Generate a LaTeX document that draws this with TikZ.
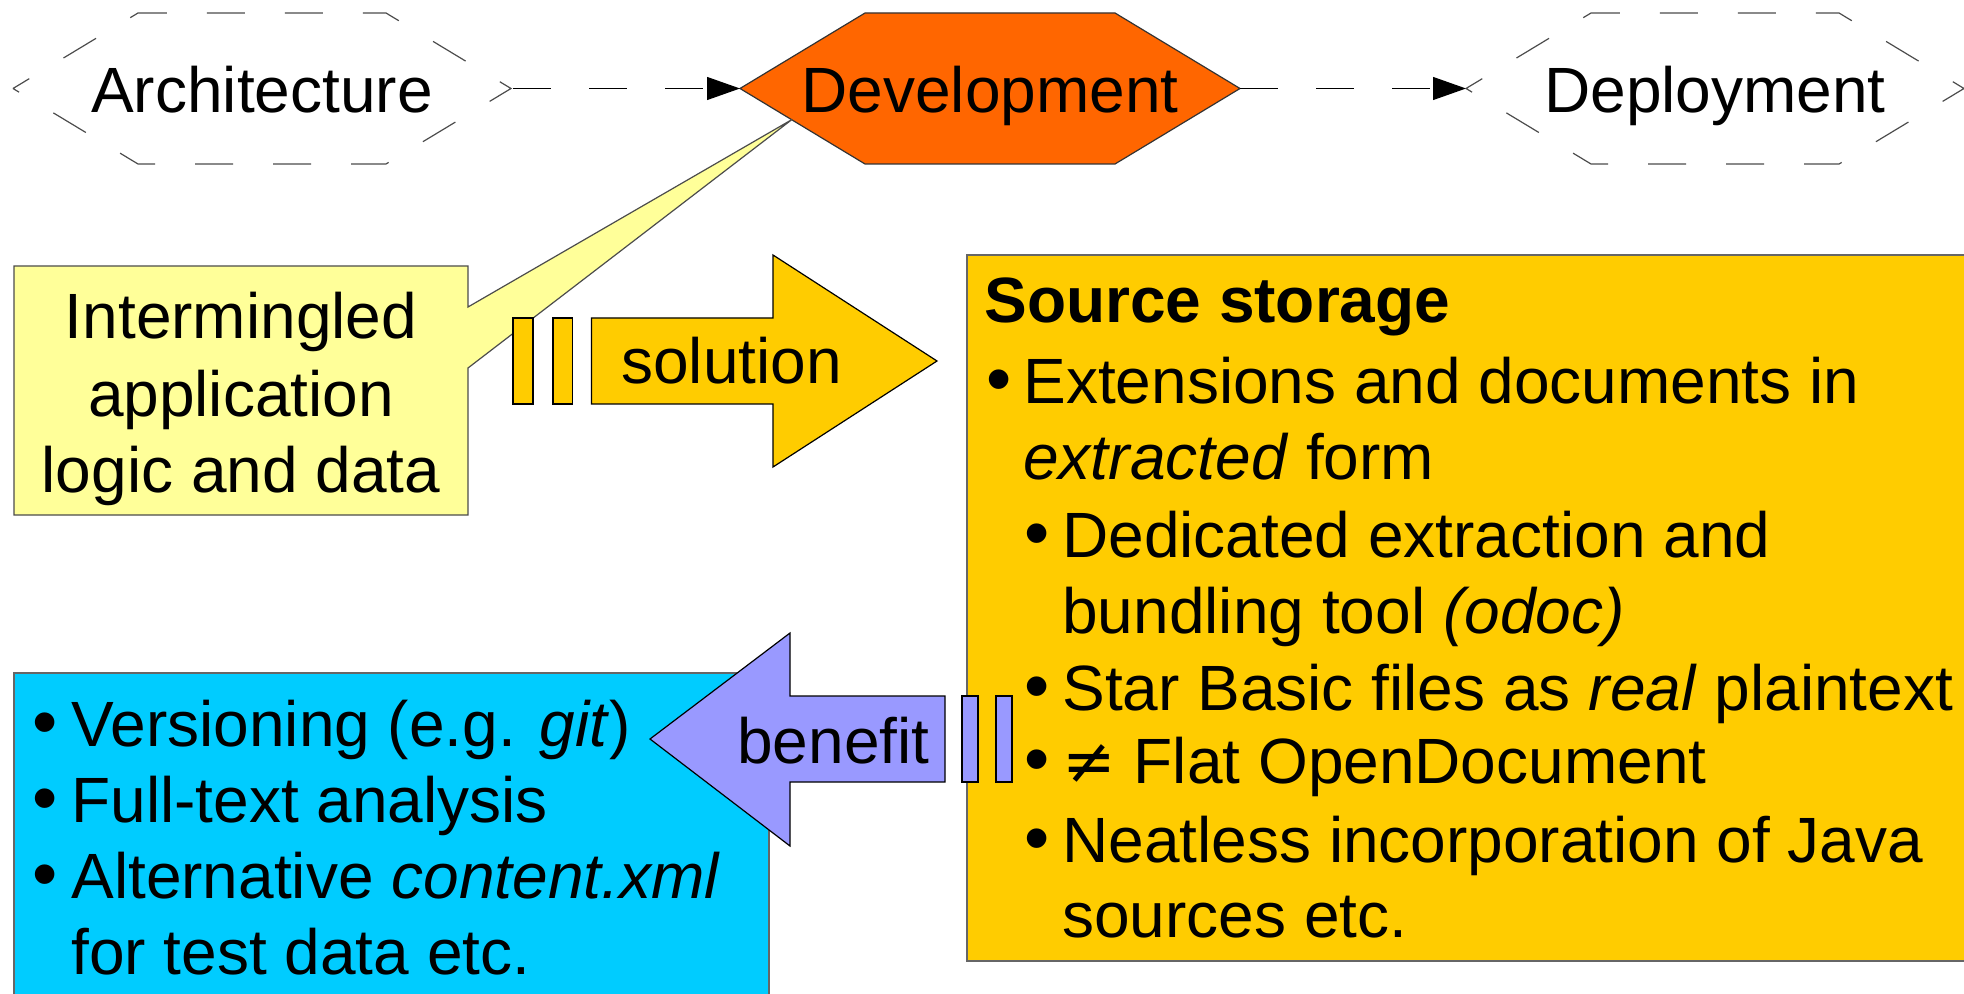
\documentclass[tikz,border=0pt]{standalone}
\usepackage{fontspec}
\setmainfont{Liberation Sans}
\newfontfamily\symfont{DejaVu Sans}
\usetikzlibrary{arrows.meta}
\definecolor{devorange}{HTML}{FF6600}
\definecolor{callyellow}{HTML}{FFFF99}
\definecolor{goldfill}{HTML}{FFCC00}
\definecolor{skyfill}{HTML}{00CCFF}
\definecolor{lavfill}{HTML}{9999FF}
\begin{document}
\begin{tikzpicture}[x=0.5pt,y=-0.5pt,
  txt/.style={font=\fontsize{32}{38}\selectfont, inner sep=0pt, anchor=base west},
  ctxt/.style={font=\fontsize{32}{38}\selectfont, inner sep=0pt, anchor=base},
  bul/.style={font=\fontsize{36}{38}\selectfont, inner sep=0pt, anchor=base west},
  dhex/.style={draw=black!70, line width=0.6pt, dash pattern=on 19pt off 20pt, dash phase=9.5pt},
  conn/.style={draw=black, line width=0.6pt, dash pattern=on 19pt off 19pt, -{Triangle[length=16.5pt,width=11.5pt]}},
  shapeline/.style={line width=0.6pt}]
\path[use as bounding box] (0,0) rectangle (1964,994);
\clip (0,0) rectangle (1964,994);

% hexagons
\draw[dhex] (13,88.5) -- (138,13) -- (386,13) -- (511,88.5) -- (386,164) -- (138,164) -- cycle;
\draw[shapeline, fill=devorange, draw=black!80] (740,88.5) -- (865,13) -- (1115,13) -- (1240,88.5) -- (1115,164) -- (865,164) -- cycle;
\draw[dhex] (1466,88.5) -- (1591,13) -- (1839,13) -- (1964,88.5) -- (1839,164) -- (1591,164) -- cycle;
\coordinate (archE) at (513,88.5);
\coordinate (devW) at (740,88.5);
\coordinate (devE) at (1240,88.5);
\coordinate (depW) at (1466,88.5);
\coordinate (devTip) at (792,119.5);
\node[ctxt] (archT) at (262,113) {Architecture};
\node[ctxt] (devT) at (990,113) {Development};
\node[ctxt] (depT) at (1715,113) {Deployment};
\draw[conn] (archE) -- (devW);
\draw[conn] (devE) -- (depW);

% callout
\draw[shapeline, fill=callyellow, draw=black!70] (14,266) -- (468,266) -- (468,307) -- (devTip) -- (468,368) -- (468,515) -- (14,515) -- cycle;
\node[ctxt] (c1) at (241,339) {Intermingled};
\node[ctxt] (c2) at (241,416) {application};
\node[ctxt] (c3) at (241,492) {logic and data};

% solution arrow
\draw[shapeline, fill=goldfill, draw=black] (513,318) rectangle (533,404);
\draw[shapeline, fill=goldfill, draw=black] (553,318) rectangle (572.5,404);
\draw[shapeline, fill=goldfill, draw=black] (591.5,318) -- (773,318) -- (773,255) -- (937,361) -- (773,467) -- (773,404) -- (591.5,404) -- cycle;
\node[txt] (sol) at (621,384) {solution};

% source storage box
\draw[shapeline, fill=goldfill, draw=black!60] (967,255) rectangle (2010,961);
\node[txt, font=\fontsize{32}{38}\selectfont\bfseries] (s0) at (984,323) {Source storage};
\node[bul] at (986,404) {•};
\node[txt] (s1) at (1023,404) {Extensions and documents in};
\node[txt] (s2) at (1023,480) {\textit{extracted} form};
\node[bul] at (1024,557) {•};
\node[txt] (s3) at (1062,557) {Dedicated extraction and};
\node[txt] (s4) at (1062,633) {bundling tool \textit{(odoc)}};
\node[bul] at (1024,710) {•};
\node[txt] (s5) at (1062,710) {Star Basic files as \textit{real} plaintext};
\node[bul] at (1024,783) {•};
\node[txt] (s6) at (1062,783) {{\symfont ≠} Flat OpenDocument};
\node[bul] at (1024,862) {•};
\node[txt] (s7) at (1062,862) {Neatless incorporation of Java};
\node[txt] (s8) at (1062,937) {sources etc.};

% benefit box
\draw[shapeline, fill=skyfill, draw=black!60] (14,673) rectangle (769,1010);
\node[bul] at (32,746) {•};
\node[txt] (b1) at (71,746) {Versioning (e.g. \textit{git})};
\node[bul] at (32,822) {•};
\node[txt] (b2) at (71,822) {Full-text analysis};
\node[bul] at (32,898) {•};
\node[txt] (b3) at (71,898) {Alternative \textit{content.xml}};
\node[txt] (b4) at (71,974) {for test data etc.};

% benefit arrow
\draw[shapeline, fill=lavfill, draw=black] (650,739) -- (790,633) -- (790,696) -- (945,696) -- (945,782) -- (790,782) -- (790,846) -- cycle;
\draw[shapeline, fill=lavfill, draw=black] (962,696) rectangle (978,782);
\draw[shapeline, fill=lavfill, draw=black] (996,696) rectangle (1012,782);
\node[txt] (ben) at (737,763) {benefit};
\end{tikzpicture}
\end{document}
